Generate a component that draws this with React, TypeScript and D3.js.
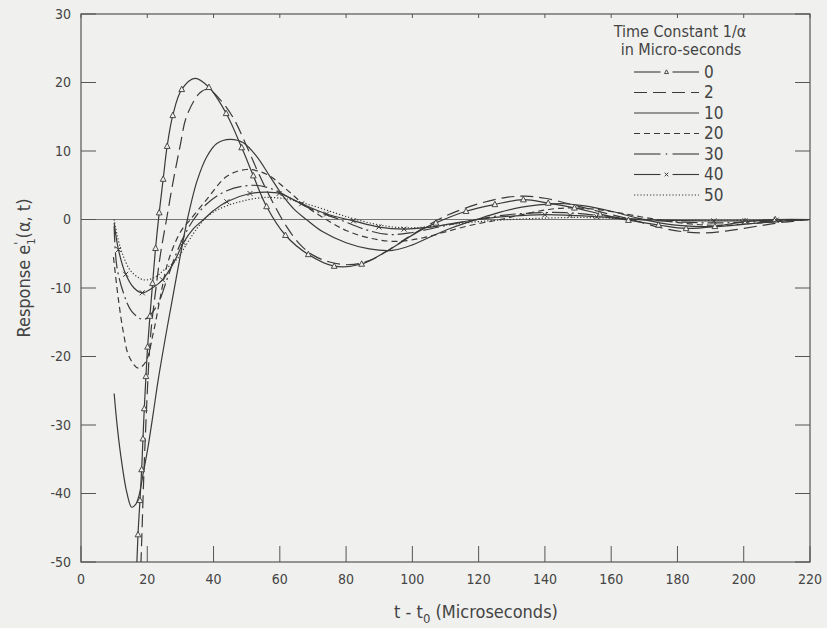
import React from 'react';
import * as d3 from 'd3';

type P = [number, number];

const xTicks = [0, 20, 40, 60, 80, 100, 120, 140, 160, 180, 200, 220];
const yTicks = [-50, -40, -30, -20, -10, 0, 10, 20, 30];

// Time constant 0 (solid with triangles)
const curve0: P[] = [
  [16.5, -55], [17.2, -46], [17.8, -41], [18.3, -36.5], [18.7, -32], [19.1, -27.6], [19.6, -22.9],
  [20.1, -18.6], [20.8, -14.1], [21.6, -9.3], [22.5, -4.2], [23.6, 1], [24.8, 5.9], [26, 10.7],
  [27.7, 15.2], [30.4, 19], [34.4, 20.6], [38.6, 19.3], [43.8, 15.5], [48.5, 10.5], [52, 6.4],
  [56, 1.9], [61.7, -2.3], [68.6, -5.1], [76.4, -6.8], [84.7, -6.5], [91, -5], [97, -3.2],
  [102, -1.7], [107.1, -0.5], [116.2, 1.2], [124.9, 2.2], [133.5, 2.9], [141, 2.4], [148.9, 1.7],
  [156.6, 0.8], [165.2, -0.1], [174.3, -0.8], [182.6, -1.3], [191.3, -1.0], [200.4, -0.3],
  [210, 0], [220, 0],
];
const marks0: P[] = [
  [17.2, -46], [17.8, -41], [18.3, -36.5], [18.7, -32], [19.1, -27.6], [19.6, -22.9], [20.1, -18.6],
  [20.8, -14.1], [21.6, -9.3], [22.5, -4.2], [23.6, 1], [24.8, 5.9], [26, 10.7], [27.7, 15.2],
  [30.4, 19], [38.6, 19.3], [43.8, 15.5], [48.5, 10.5], [52, 6.4], [56, 1.9], [61.7, -2.3],
  [68.6, -5.1], [76.4, -6.8], [84.7, -6.5], [107.1, -0.5], [116.2, 1.2], [124.9, 2.2],
  [133.5, 2.9], [141, 2.4], [148.9, 1.7], [156.6, 0.8], [165.2, -0.1], [174.3, -0.8],
  [182.6, -1.3], [191.3, -1.0], [200.4, -0.3], [209.5, 0],
];

// Time constant 2 (long dashes)
const curve2: P[] = [
  [17.6, -56], [18.1, -50], [19.3, -33], [21, -17], [22.5, -10.5], [24, -5], [25.8, 0], [27.9, 5.8],
  [29.9, 10.7], [31.9, 15.1], [35.9, 18.5], [38.4, 19], [42, 17.5], [46, 14.8], [50, 10.7],
  [54, 6.3], [58, 2.4], [62, -1.0], [66, -3.6], [70, -5.2], [75, -6.2], [81, -6.6], [87, -6.0],
  [93, -4.4], [100, -2.2], [110, 0.5], [120, 2.3], [128, 3.2], [134, 3.4], [140, 3.1],
  [148, 2.2], [156, 1.2], [166, 0], [175, -1.2], [182, -1.8], [188, -1.95], [196, -1.6],
  [205, -0.9], [212, -0.4], [220, 0],
];

// Time constant 10 (solid)
const curve10: P[] = [
  [10, -25.4], [11, -30.5], [12.3, -35.5], [13.8, -39.8], [15.3, -42], [16.5, -41.6], [17.5, -40.3],
  [18.8, -37], [20.3, -33], [21.8, -28.3], [23.3, -23.4], [26, -15.8], [28, -10.5], [30, -5.2],
  [32.1, 0], [35, 5.6], [38, 9.2], [41, 11.1], [45, 11.7], [49, 11.2], [53, 9.2], [57, 6.3],
  [61, 3.4], [64.5, 1.4], [68, 0], [73, -1.8], [80, -3.4], [87, -4.3], [94, -4.5], [100, -3.7],
  [106, -2.4], [112, -1.2], [119.4, 0], [126, 1.0], [133, 1.8], [140, 2.2], [146, 2.3],
  [152, 2.0], [160, 1.2], [168, 0.2], [176, -0.6], [185, -1.0], [193, -1.0], [200, -0.7],
  [210, -0.3], [220, 0],
];

// Time constant 20 (short dashes)
const curve20: P[] = [
  [9.8, -5.5], [11.3, -11.7], [12.8, -16.5], [14.5, -20], [17.3, -21.7], [19.5, -20.8],
  [21.8, -16.6], [23.8, -11.7], [25.9, -6.8], [28.4, -3.4], [30.7, -1.3], [33, 0], [37.9, 2.9],
  [44, 6.3], [50, 7.3], [56, 6.6], [62, 4.4], [68, 1.9], [74, 0], [80, -1.6], [87, -2.7],
  [95, -3.2], [103, -2.7], [110, -1.8], [118, -0.8], [126.5, 0], [134, 0.8], [141.6, 1.5],
  [148, 1.7], [155, 1.5], [162, 1.0], [170, 0.3], [178, -0.3], [188, -0.8], [196, -0.8],
  [205, -0.5], [213, -0.2], [220, 0],
];

// Time constant 30 (dash-dot)
const curve30: P[] = [
  [10, -1], [10.8, -6.8], [12.8, -10.7], [15.3, -13.4], [19, -14.6], [22.8, -12.7], [25.9, -8.8],
  [28.4, -5.4], [31, -2.5], [34, 0], [38, 2.3], [44, 4.2], [52, 5.0], [58, 4.4], [64, 2.9],
  [70, 1.4], [78, 0], [86, -1.5], [93, -2.2], [100, -1.9], [108, -1.1], [116, -0.3],
  [124, 0.4], [134, 0.9], [146, 1.0], [156, 0.6], [166, 0.1], [178, -0.3], [190, -0.5],
  [200, -0.4], [210, -0.2], [220, 0],
];

// Time constant 40 (solid with x marks)
const curve40: P[] = [
  [10, -0.5], [11.3, -4.4], [13.5, -8], [16, -10], [18.5, -10.7], [21.5, -10], [24.6, -8.8],
  [28, -6.3], [30.9, -3.4], [34, -1.3], [37, 0], [40, 1.3], [44, 2.6], [51, 3.8], [56, 4.0],
  [60, 3.8], [66.6, 2.3], [74.1, 0.8], [82.2, -0.2], [89.9, -1.1], [97.5, -1.4], [104, -1.2],
  [112, -0.6], [120, 0], [130, 0.5], [140, 0.7], [147.6, 0.6], [155.6, 0.4], [164, 0.1],
  [175, -0.1], [191, -0.2], [200.4, -0.2], [209.8, -0.1], [220, 0],
];
const marks40: P[] = [
  [11.3, -4.4], [13.5, -8], [18.5, -10.7], [24.6, -8.8], [30.9, -3.4], [44, 2.6], [51, 3.8],
  [59.8, 3.8], [66.6, 2.3], [74.1, 0.8], [82.2, -0.2], [89.9, -1.1], [97.5, -1.4], [140, 0.7],
  [147.6, 0.6], [155.6, 0.4], [191, -0.2], [200.4, -0.2], [209.8, -0.1],
];

// Time constant 50 (dotted)
const curve50: P[] = [
  [10, 0], [11, -2.5], [12.5, -5], [15, -7.5], [18.8, -8.8], [22, -8.5], [25, -7.4], [28.9, -5.8],
  [32, -3.5], [35, -1.3], [38, 0.4], [42, 1.6], [48, 2.6], [55, 3.2], [62, 3.0], [70, 2.0],
  [77, 0.9], [83, 0], [90, -0.8], [97, -1.2], [104, -1.1], [112, -0.7], [120, -0.3], [130, 0],
  [140, 0.2], [150, 0.3], [160, 0.2], [172, 0], [185, -0.1], [200, -0.1], [220, 0],
];

const legendLabels = ['0', '2', '10', '20', '30', '40', '50'];

const INK = '#3a3a3a';
const FONT = "'Liberation Sans Narrow', 'DejaVu Sans Condensed', Roboto, sans-serif";

const W = 827;
const H = 628;
const x = d3.scaleLinear().domain([0, 220]).range([81, 810]);
const y = d3.scaleLinear().domain([-50, 30]).range([562, 14]);

const lineGen = d3
  .line<P>()
  .x((d) => x(d[0]))
  .y((d) => y(d[1]))
  .curve(d3.curveCatmullRom.alpha(0.5));

const series = [
  { label: '0', data: curve0, dash: undefined as string | undefined },
  { label: '2', data: curve2, dash: '13,6' },
  { label: '10', data: curve10, dash: undefined },
  { label: '20', data: curve20, dash: '6,4' },
  { label: '30', data: curve30, dash: '16,4,2,4' },
  { label: '40', data: curve40, dash: undefined },
  { label: '50', data: curve50, dash: '1.2,2' },
];

function Tri({ cx, cy, s = 3.2 }: { cx: number; cy: number; s?: number }) {
  return (
    <path
      d={`M${cx},${cy - s} L${cx + s * 0.9},${cy + s * 0.7} L${cx - s * 0.9},${cy + s * 0.7} Z`}
      fill="#f0f0ee"
      stroke={INK}
      strokeWidth={0.9}
    />
  );
}

function XMark({ cx, cy, s = 2.5 }: { cx: number; cy: number; s?: number }) {
  return (
    <path
      d={`M${cx - s},${cy - s} L${cx + s},${cy + s} M${cx - s},${cy + s} L${cx + s},${cy - s}`}
      stroke={INK}
      strokeWidth={1}
    />
  );
}

export default function App() {
  const x0 = x(0), x1 = x(220), yTop = y(30), yBot = y(-50);
  const legY0 = 72;
  const legStep = 20.5;
  const lx0 = 634, lx1 = 699;
  return (
    <svg
      width={W}
      height={H}
      viewBox={`0 0 ${W} ${H}`}
      style={{ position: 'absolute', left: 0, top: 0, background: '#f0f0ee' }}
    >
      <defs>
        <clipPath id="plot">
          <rect x={x0} y={yTop} width={x1 - x0} height={yBot - yTop} />
        </clipPath>
      </defs>
      <rect x={0} y={0} width={W} height={H} fill="#f0f0ee" />
      {/* frame */}
      <rect x={x0} y={yTop} width={x1 - x0} height={yBot - yTop} fill="none" stroke="#555" strokeWidth={1.2} />
      {/* zero line */}
      <line x1={x0} x2={x1} y1={y(0)} y2={y(0)} stroke="#666" strokeWidth={0.9} />
      {/* ticks */}
      {yTicks.map((t) => (
        <g key={'y' + t}>
          <line x1={x0} x2={x0 + 15} y1={y(t)} y2={y(t)} stroke="#555" strokeWidth={1} />
          <line x1={x1} x2={x1 - 15} y1={y(t)} y2={y(t)} stroke="#555" strokeWidth={1} />
          <text
            x={x0 - 10}
            y={y(t)}
            dy="0.35em"
            textAnchor="end"
            fontFamily={FONT}
            fontSize={14}
            fill="#444"
          >
            {t}
          </text>
        </g>
      ))}
      {xTicks.map((t) => (
        <g key={'x' + t}>
          <line x1={x(t)} x2={x(t)} y1={yBot} y2={yBot - 16} stroke="#555" strokeWidth={1} />
          <line x1={x(t)} x2={x(t)} y1={yTop} y2={yTop + 4} stroke="#555" strokeWidth={1} />
          <text
            x={x(t)}
            y={yBot + 17}
            dy="0.35em"
            textAnchor="middle"
            fontFamily={FONT}
            fontSize={14}
            fill="#444"
          >
            {t}
          </text>
        </g>
      ))}
      {/* curves */}
      <g clipPath="url(#plot)" fill="none" stroke={INK} strokeWidth={1.2}>
        {series.map((s) => (
          <path key={s.label} d={lineGen(s.data) || ''} strokeDasharray={s.dash} />
        ))}
        {marks0.map((d, i) => (
          <Tri key={'t' + i} cx={x(d[0])} cy={y(d[1])} />
        ))}
        {marks40.map((d, i) => (
          <XMark key={'x' + i} cx={x(d[0])} cy={y(d[1])} />
        ))}
      </g>
      {/* legend */}
      <g fontFamily={FONT} fill="#444">
        <text x={680} y={31} dy="0.35em" textAnchor="middle" fontSize={16}>
          Time Constant 1/α
        </text>
        <text x={681} y={49} dy="0.35em" textAnchor="middle" fontSize={16}>
          in Micro-seconds
        </text>
        {legendLabels.map((lab, i) => {
          const ly = legY0 + i * legStep;
          const s = series[i];
          let sample: React.ReactNode;
          const mid = (lx0 + lx1) / 2;
          if (lab === '0' || lab === '40' || lab === '30') {
            sample = (
              <g stroke={INK} strokeWidth={1.1}>
                <line x1={lx0} x2={mid - 6} y1={ly} y2={ly} />
                <line x1={mid + 6} x2={lx1} y1={ly} y2={ly} />
                {lab === '0' && <Tri cx={mid} cy={ly} s={2.2} />}
                {lab === '40' && <XMark cx={mid} cy={ly} s={1.8} />}
                {lab === '30' && <circle cx={mid} cy={ly} r={0.8} fill={INK} stroke="none" />}
              </g>
            );
          } else {
            sample = (
              <line
                x1={lx0}
                x2={lx1}
                y1={ly}
                y2={ly}
                stroke={INK}
                strokeWidth={lab === '50' ? 1 : 1.1}
                strokeDasharray={s.dash}
              />
            );
          }
          return (
            <g key={lab}>
              {sample}
              <text x={704} y={ly} dy="0.35em" fontSize={17}>
                {lab}
              </text>
            </g>
          );
        })}
      </g>
      {/* axis titles */}
      <text
        transform={`translate(24, ${268}) rotate(-90)`}
        textAnchor="middle"
        dy="0.35em"
        fontFamily={FONT}
        fontSize={18}
        fill="#444"
      >
        Response e
        <tspan dy="-7" fontSize={12}>'</tspan>
        <tspan dx="-3" dy="12" fontSize={11}>1</tspan>
        <tspan dy="-5">(α, t)</tspan>
      </text>
      <text x={476} y={612} dy="0.35em" textAnchor="middle" fontFamily={FONT} fontSize={18} fill="#444">
        t - t<tspan dy="5" fontSize={13}>0</tspan>
        <tspan dy="-5"> (Microseconds)</tspan>
      </text>
    </svg>
  );
}
